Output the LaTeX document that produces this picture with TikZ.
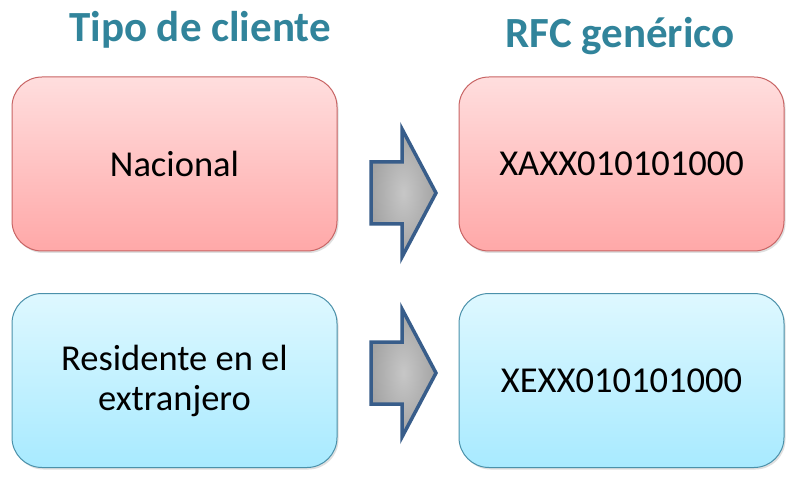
\documentclass[tikz,border=0pt]{standalone}
\usepackage{fontspec}
\setmainfont{Carlito}
\usetikzlibrary{positioning,shadows}
\definecolor{titleteal}{RGB}{49,132,155}
\definecolor{redtop}{RGB}{255,222,222}
\definecolor{redbot}{RGB}{255,168,168}
\definecolor{redline}{RGB}{200,100,100}
\definecolor{bluetop}{RGB}{222,248,255}
\definecolor{bluebot}{RGB}{168,234,255}
\definecolor{blueline}{RGB}{75,145,170}
\definecolor{arrowline}{RGB}{56,93,138}

\begin{document}
\begin{tikzpicture}[x=1pt,y=-1pt,
  tipbox/.style={rounded corners=30pt,minimum width=325pt,minimum height=174pt,
                 align=center,font=\fontsize{36.5}{40}\selectfont,line width=1pt,
                 drop shadow={opacity=0.25,shadow xshift=1.5pt,shadow yshift=-2pt}},
  redbox/.style={tipbox,draw=redline,top color=redtop,bottom color=redbot},
  bluebox/.style={tipbox,draw=blueline,top color=bluetop,bottom color=bluebot},
  heading/.style={font=\fontsize{43}{48}\selectfont\bfseries,text=titleteal,anchor=base},
  blockarrow/.style={draw=arrowline,line width=3.5pt,line join=miter,
                     inner color=black!22,outer color=black!36}]
  \fill[white] (0,0) rectangle (800,478);
  \useasboundingbox (0,0) rectangle (800,478);

  % column headings
  \node[heading] (tipo) at (200,42) {Tipo de cliente};
  \node[heading] (rfc)  at (620,48) {RFC genérico};

  % boxes
  \node[redbox]  (nac)  at (174.5,164)   {Nacional};
  \node[redbox]  (xaxx) at (621.5,164)   {XAXX010101000};
  \node[bluebox] (res)  at (174.5,380.5) {Residente en el\\extranjero};
  \node[bluebox] (xexx) at (621.5,380.5) {XEXX010101000};

  % block arrows
  \foreach \y in {193,373}
    \draw[blockarrow] (371,{\y-31}) -- (402,{\y-31}) -- (402,{\y-64}) -- (436,\y)
      -- (402,{\y+64}) -- (402,{\y+31}) -- (371,{\y+31}) -- cycle;
\end{tikzpicture}
\end{document}
